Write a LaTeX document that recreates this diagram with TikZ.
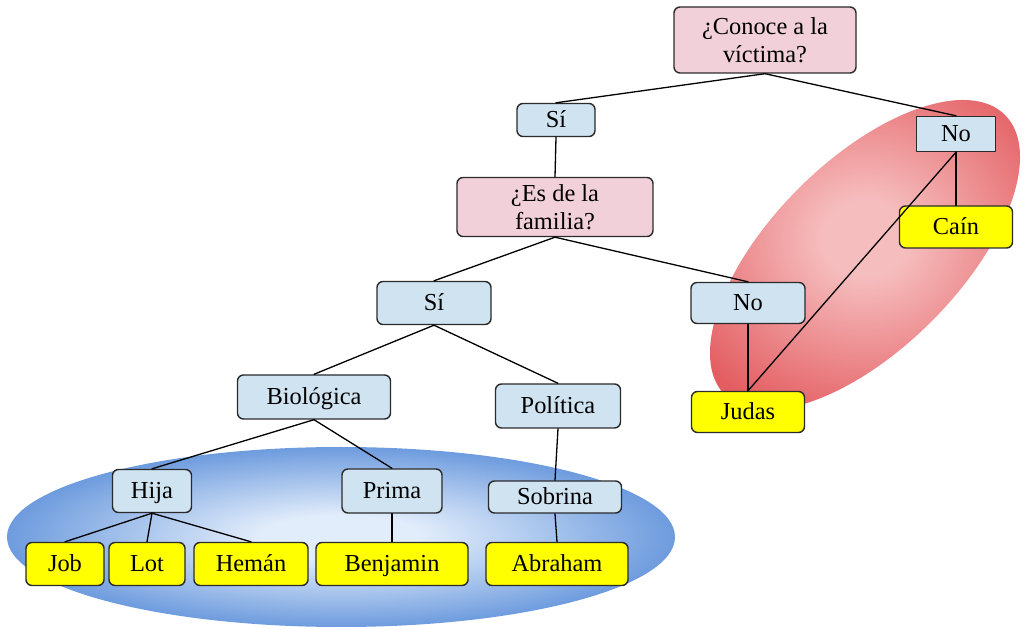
\documentclass[tikz,border=0pt]{standalone}
\usepackage{fontspec}
\setmainfont{Liberation Serif}
\usepackage{tikz}
\definecolor{ink}{HTML}{2B2B2B}
\definecolor{pinkbg}{HTML}{F2D0DA}
\definecolor{bluebg}{HTML}{CFE3F1}
\definecolor{namebg}{HTML}{FFFF00}
\definecolor{blueIn}{HTML}{E2EDFB}
\definecolor{blueOut}{HTML}{4F86D6}
\definecolor{redIn}{HTML}{F6BDBE}
\definecolor{redOut}{HTML}{E35D61}
\usetikzlibrary{shapes.geometric}
\pgfdeclareradialshading{blueglow}{\pgfpoint{0bp}{0bp}}{%
  color(0bp)=(blueIn); color(6bp)=(blueIn); color(30bp)=(blueOut); color(50bp)=(blueOut)}
\pgfdeclareradialshading{redglow}{\pgfpoint{0bp}{0bp}}{%
  color(0bp)=(redIn); color(6bp)=(redIn); color(30bp)=(redOut); color(50bp)=(redOut)}
\tikzset{
  every picture/.style={line cap=round, line join=round},
  every node/.style={font=\fontsize{12.2}{14}\selectfont, text=black},
  box/.style={
    draw=ink,
    rounded corners=3pt,
    line width=0.7pt,
    align=center,
    inner sep=1pt
  },
  oneline/.style={box, text height=9pt, text depth=1.6pt},
  question/.style={box, fill=pinkbg},
  answer/.style={oneline, fill=bluebg},
  person/.style={oneline, fill=namebg},
  edge/.style={line width=0.65pt, draw=black},
  blob/.style={ellipse, draw=none, inner sep=0pt}
}

\begin{document}
\begin{tikzpicture}[x=0.5pt, y=-0.5pt]
  \useasboundingbox (0,0) rectangle (1029,630);

  % Groups behind the tree
  \node[blob, shading=blueglow, minimum width=334pt, minimum height=90pt] (famgroup) at (341,537) {};
  \node[blob, shading=redglow, rotate=45, minimum width=198pt, minimum height=94pt] (nogroup) at (865,255) {};

  % Top questions
  \node[question, minimum width=91pt, minimum height=33pt] (conoce) at (765,40) {¿Conoce a la\\víctima?};
  \node[answer, minimum width=39pt, minimum height=16.5pt] (siA) at (556,120) {Sí};
  \node[answer, sharp corners, minimum width=39.5pt, minimum height=17.5pt] (noA) at (956,134) {No};
  \node[question, minimum width=98pt, minimum height=29.5pt] (familia) at (555,207) {¿Es de la\\familia?};
  \node[person, minimum width=56.5pt, minimum height=21pt] (cain) at (956,227) {Caín};

  % Family branch
  \node[answer, minimum width=57pt, minimum height=21.5pt] (siB) at (434,303) {Sí};
  \node[answer, minimum width=57pt, minimum height=20.5pt] (noB) at (748,303) {No};
  \node[person, minimum width=56.5pt, minimum height=20.5pt] (judas) at (748,412) {Judas};
  \node[answer, minimum width=76.5pt, minimum height=22pt] (bio) at (314,397) {Biológica};
  \node[answer, minimum width=62.5pt, minimum height=22pt] (pol) at (558,406) {Política};
  \node[answer, minimum width=39.5pt, minimum height=21.5pt] (hija) at (152,491) {Hija};
  \node[answer, minimum width=50pt, minimum height=22pt] (prima) at (392,491) {Prima};
  \node[answer, minimum width=66.5pt, minimum height=16pt] (sobrina) at (555,497) {Sobrina};

  % Names
  \node[person, minimum width=39pt, minimum height=21.5pt] (job) at (65,564) {Job};
  \node[person, minimum width=38pt, minimum height=21.5pt] (lot) at (147,564) {Lot};
  \node[person, minimum width=57pt, minimum height=21.5pt] (heman) at (251,564) {Hemán};
  \node[person, minimum width=76pt, minimum height=21.5pt] (benjamin) at (392,564) {Benjamin};
  \node[person, minimum width=71pt, minimum height=21.5pt] (abraham) at (557,564) {Abraham};

  % Connectors
  \draw[edge] (conoce.south) -- (siA.north);
  \draw[edge] (conoce.south) -- (noA.north);
  \draw[edge] (siA.south) -- (familia.north);
  \draw[edge] (noA.south) -- (cain.north);
  \draw[edge] (noA.south) -- (judas.north);
  \draw[edge] (familia.south) -- (siB.north);
  \draw[edge] (familia.south) -- (noB.north);
  \draw[edge] (noB.south) -- (judas.north);
  \draw[edge] (siB.south) -- (bio.north);
  \draw[edge] (siB.south) -- (pol.north);
  \draw[edge] (bio.south) -- (hija.north);
  \draw[edge] (bio.south) -- (prima.north);
  \draw[edge] (pol.south) -- (sobrina.north);
  \draw[edge] (hija.south) -- (job.north);
  \draw[edge] (hija.south) -- (lot.north);
  \draw[edge] (hija.south) -- (heman.north);
  \draw[edge] (prima.south) -- (benjamin.north);
  \draw[edge] (sobrina.south) -- (abraham.north);
\end{tikzpicture}
\end{document}
